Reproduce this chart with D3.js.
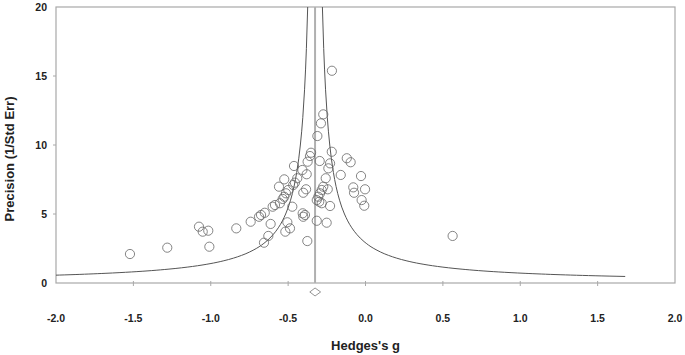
<!DOCTYPE html>
<html>
<head>
<meta charset="utf-8">
<script src="https://cdn.jsdelivr.net/npm/d3@7"></script>
<style>
  body { margin: 0; background: #fff; }
  text { font-family: "Liberation Sans", Arial, sans-serif; font-weight: bold; }
</style>
</head>
<body>
<svg id="chart" width="685" height="355"></svg>
<script>
const width = 685, height = 355;
const marginTop = 7, marginRight = 10, marginBottom = 72, marginLeft = 56;

// study effects (Hedges's g) and precision (1/SE)
const hedgesG = [-0.217, -0.273, -0.288, -0.311, -0.352, -0.359, -0.218, -0.121, -0.096, -0.296,
  -0.374, -0.462, -0.229, -0.240, -0.408, -0.380, -0.160, -0.029, -0.525, -0.441,
  -0.456, -0.467, -0.257, -0.559, -0.079, -0.003, -0.074, -0.244, -0.273, -0.283,
  -0.294, -0.305, -0.315, -0.299, -0.283, -0.384, -0.402, -0.499, -0.514, -0.525,
  -0.535, -0.025, -0.008, -0.553, -0.585, -0.600, -0.229, -0.473, -0.651, -0.675,
  -0.688, -0.742, -0.406, -0.391, -0.402, -0.613, -0.505, -0.518, -0.488, -0.315,
  -0.251, -0.835, -1.076, -1.052, -1.016, -0.628, -0.656, -0.376, -1.009, -1.522,
  -1.281, 0.563];
const precision = [15.38, 12.22, 11.57, 10.65, 9.44, 9.20, 9.51, 9.04, 8.75, 8.84,
  8.79, 8.48, 8.67, 8.31, 8.19, 7.88, 7.83, 7.75, 7.51, 7.59,
  7.27, 7.10, 7.59, 6.98, 6.93, 6.79, 6.54, 6.79, 6.98, 6.74,
  6.50, 6.25, 6.01, 5.89, 5.78, 6.79, 6.54, 6.74, 6.50, 6.25,
  6.09, 6.01, 5.60, 5.78, 5.65, 5.53, 5.58, 5.53, 5.09, 4.93,
  4.80, 4.44, 5.05, 4.93, 4.80, 4.28, 4.40, 3.72, 3.96, 4.51,
  4.37, 3.96, 4.08, 3.72, 3.79, 3.41, 2.92, 3.04, 2.63, 2.10,
  2.56, 3.41];

// pooled estimate and funnel limits
const pooledG = -0.326;
const pooledCI = [-0.36, -0.29];
const funnelZ = 0.95;
const funnelPrecision = [0.474, 0.5, 0.55, 0.6, 0.7, 0.8, 0.9, 1, 1.2, 1.4, 1.6, 1.8, 2, 2.5, 3, 3.5, 4, 5, 6, 7, 8, 10, 12, 14, 17, 20];

const xTicks = [-2.0, -1.5, -1.0, -0.5, 0.0, 0.5, 1.0, 1.5, 2.0];
const yTicks = [0, 5, 10, 15, 20];

const svg = d3.select("#chart");

const x = d3.scaleLinear().domain([-2, 2]).range([marginLeft, width - marginRight]);
const y = d3.scaleLinear().domain([0, 20]).range([height - marginBottom - 0, marginTop]);
const y0 = y(0);

svg.append("defs").append("clipPath").attr("id", "plotclip")
  .append("rect")
  .attr("x", marginLeft).attr("y", marginTop)
  .attr("width", width - marginRight - marginLeft)
  .attr("height", y0 - marginTop);

// frame
svg.append("rect")
  .attr("x", marginLeft).attr("y", marginTop)
  .attr("width", width - marginRight - marginLeft)
  .attr("height", y0 - marginTop)
  .attr("fill", "none")
  .attr("stroke", "#a8a8a8")
  .attr("stroke-width", 1.2);

// x ticks and labels
svg.append("g").selectAll("line")
  .data(xTicks.slice(1, -1))
  .join("line")
  .attr("x1", d => x(d)).attr("x2", d => x(d))
  .attr("y1", y0 - 2).attr("y2", y0 + 3)
  .attr("stroke", "#a8a8a8");

svg.append("g").selectAll("text")
  .data(xTicks)
  .join("text")
  .attr("x", d => x(d))
  .attr("y", y0 + 39)
  .attr("text-anchor", "middle")
  .style("font-size", "10.5px")
  .attr("fill", "#222")
  .text(d => d3.format(".1f")(d).replace("−", "-"));

// y ticks and labels
svg.append("g").selectAll("line")
  .data(yTicks.slice(1, -1))
  .join("line")
  .attr("x1", marginLeft - 3).attr("x2", marginLeft)
  .attr("y1", d => y(d)).attr("y2", d => y(d))
  .attr("stroke", "#a8a8a8");

svg.append("g").selectAll("text")
  .data(yTicks)
  .join("text")
  .attr("x", marginLeft - 9)
  .attr("y", d => y(d))
  .attr("dy", "0.35em")
  .attr("text-anchor", "end")
  .style("font-size", "10.5px")
  .attr("fill", "#222")
  .text(d => d);

// axis titles
svg.append("text")
  .attr("x", (marginLeft + width - marginRight) / 2)
  .attr("y", 350)
  .attr("text-anchor", "middle")
  .style("font-size", "13px")
  .attr("fill", "#222")
  .text("Hedges's g");

svg.append("text")
  .attr("transform", `translate(14, 159) rotate(-90)`)
  .attr("text-anchor", "middle")
  .style("font-size", "13px")
  .attr("fill", "#222")
  .text("Precision (1/Std Err)");

// pooled effect line
svg.append("line")
  .attr("x1", x(pooledG)).attr("x2", x(pooledG))
  .attr("y1", y0).attr("y2", marginTop)
  .attr("stroke", "#b0b0b0")
  .attr("stroke-width", 2);

// funnel limits
const plot = svg.append("g").attr("clip-path", "url(#plotclip)");
[-1, 1].forEach(side => {
  const line = d3.line()
    .x(p => x(pooledG + side * funnelZ / p))
    .y(p => y(p))
    .curve(d3.curveMonotoneY);
  plot.append("path")
    .attr("d", line(funnelPrecision))
    .attr("fill", "none")
    .attr("stroke", "#555")
    .attr("stroke-width", 1);
});

// studies
svg.append("g").selectAll("circle")
  .data(hedgesG.map((g, i) => ({g: g, p: precision[i]})))
  .join("circle")
  .attr("cx", d => x(d.g))
  .attr("cy", d => y(d.p))
  .attr("r", 4.6)
  .attr("fill", "none")
  .attr("stroke", "#666")
  .attr("stroke-width", 0.8);

// summary diamond
const dy = y(-0.65);
svg.append("path")
  .attr("d", `M${x(pooledCI[0])},${dy} L${x(pooledG)},${dy - 4} L${x(pooledCI[1])},${dy} L${x(pooledG)},${dy + 4} Z`)
  .attr("fill", "none")
  .attr("stroke", "#888")
  .attr("stroke-width", 0.9);
</script>
</body>
</html>
